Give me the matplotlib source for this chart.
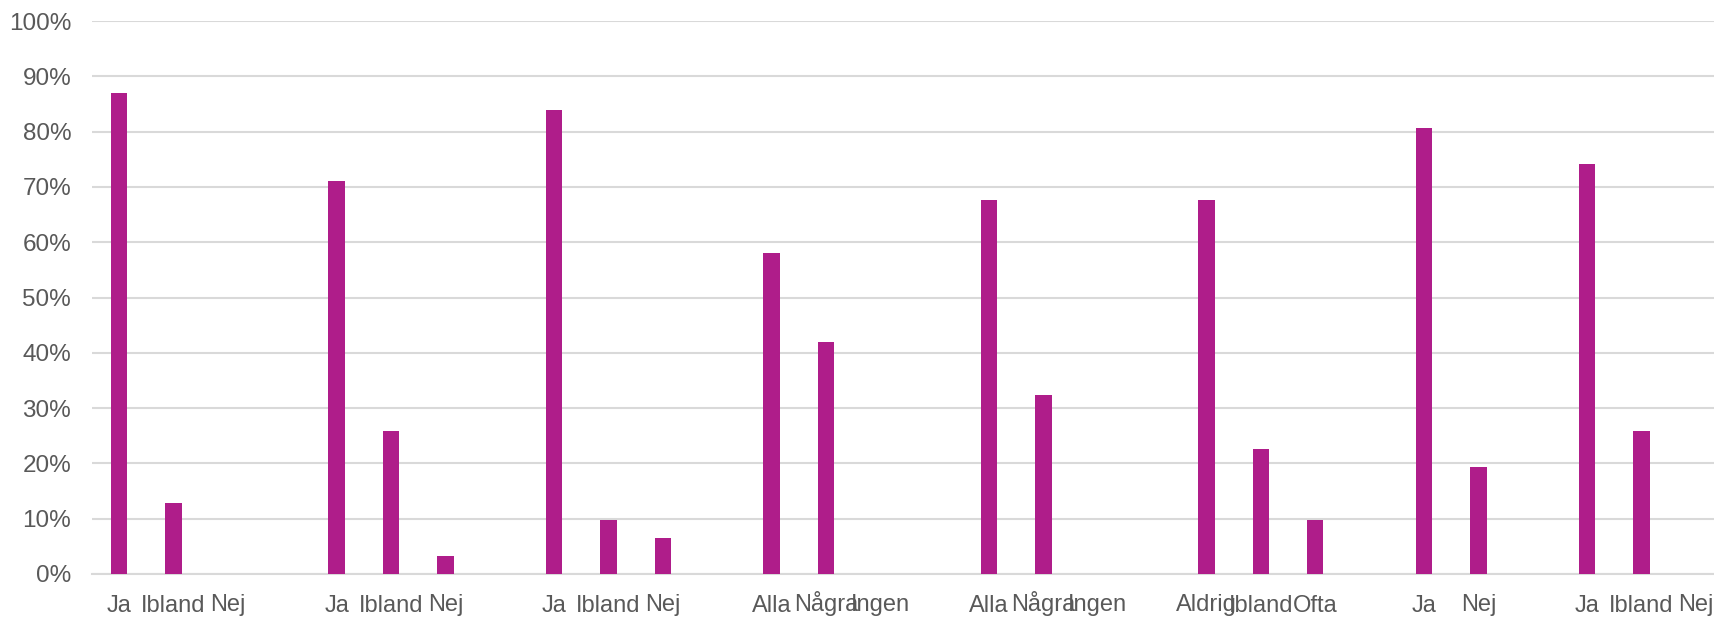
import matplotlib
matplotlib.use("Agg")
import matplotlib.pyplot as plt
import numpy as np

# Category labels (blank strings are the gaps between question groups)
categories = [
    "Ja", "Ibland", "Nej", "",
    "Ja", "Ibland", "Nej", "",
    "Ja", "Ibland", "Nej", "",
    "Alla", "Några", "Ingen", "",
    "Alla", "Några", "Ingen", "",
    "Aldrig", "Ibland", "Ofta", "",
    "Ja", "Nej", "",
    "Ja", "Ibland", "Nej",
]
# Share in percent (nan = gap slot)
values = [
    87.0, 12.8, 0.0, np.nan,
    71.0, 25.8, 3.2, np.nan,
    83.9, 9.7, 6.5, np.nan,
    58.1, 41.9, 0.0, np.nan,
    67.7, 32.3, 0.0, np.nan,
    67.7, 22.6, 9.7, np.nan,
    80.6, 19.4, np.nan,
    74.2, 25.8, 0.0,
]
yticks = [0, 10, 20, 30, 40, 50, 60, 70, 80, 90, 100]
ytick_labels = [f"{t}%" for t in yticks]

bar_color = "#AF1D8A"
grid_color = "#D9D9D9"
text_color = "#595959"

plt.rcParams["font.family"] = ["Liberation Sans", "DejaVu Sans"]

W, H = 1714, 617
fig = plt.figure(figsize=(W / 100, H / 100), dpi=100)
left_px, right_px, top_px, bottom_px = 92, 1723, 21, 574
ax = fig.add_axes([left_px / W, 1 - bottom_px / H, (right_px - left_px) / W, (bottom_px - top_px) / H])

x = np.arange(len(categories))
vals = np.array(values, dtype=float)
ax.bar(x, np.nan_to_num(vals), width=0.3, color=bar_color, zorder=3)

ax.set_xlim(-0.5, len(categories) - 0.5)
ax.set_ylim(0, 100)
ax.set_yticks(yticks)
ax.set_yticklabels(ytick_labels)
ax.set_xticks(x)
ax.set_xticklabels(categories)

ax.grid(axis="y", color=grid_color, linewidth=1.5, zorder=0)
ax.grid(axis="x", visible=False)
for s in ["top", "right", "left"]:
    ax.spines[s].set_visible(False)
ax.spines["bottom"].set_color(grid_color)
ax.spines["bottom"].set_linewidth(1.5)

ax.tick_params(axis="y", length=0, pad=15, labelsize=17.5, labelcolor=text_color)
ax.tick_params(axis="x", length=0, pad=27, labelsize=17, labelcolor=text_color)
for lbl in ax.get_xticklabels():
    lbl.set_verticalalignment("baseline")

fig.savefig("out.png", dpi=100, facecolor="white")
